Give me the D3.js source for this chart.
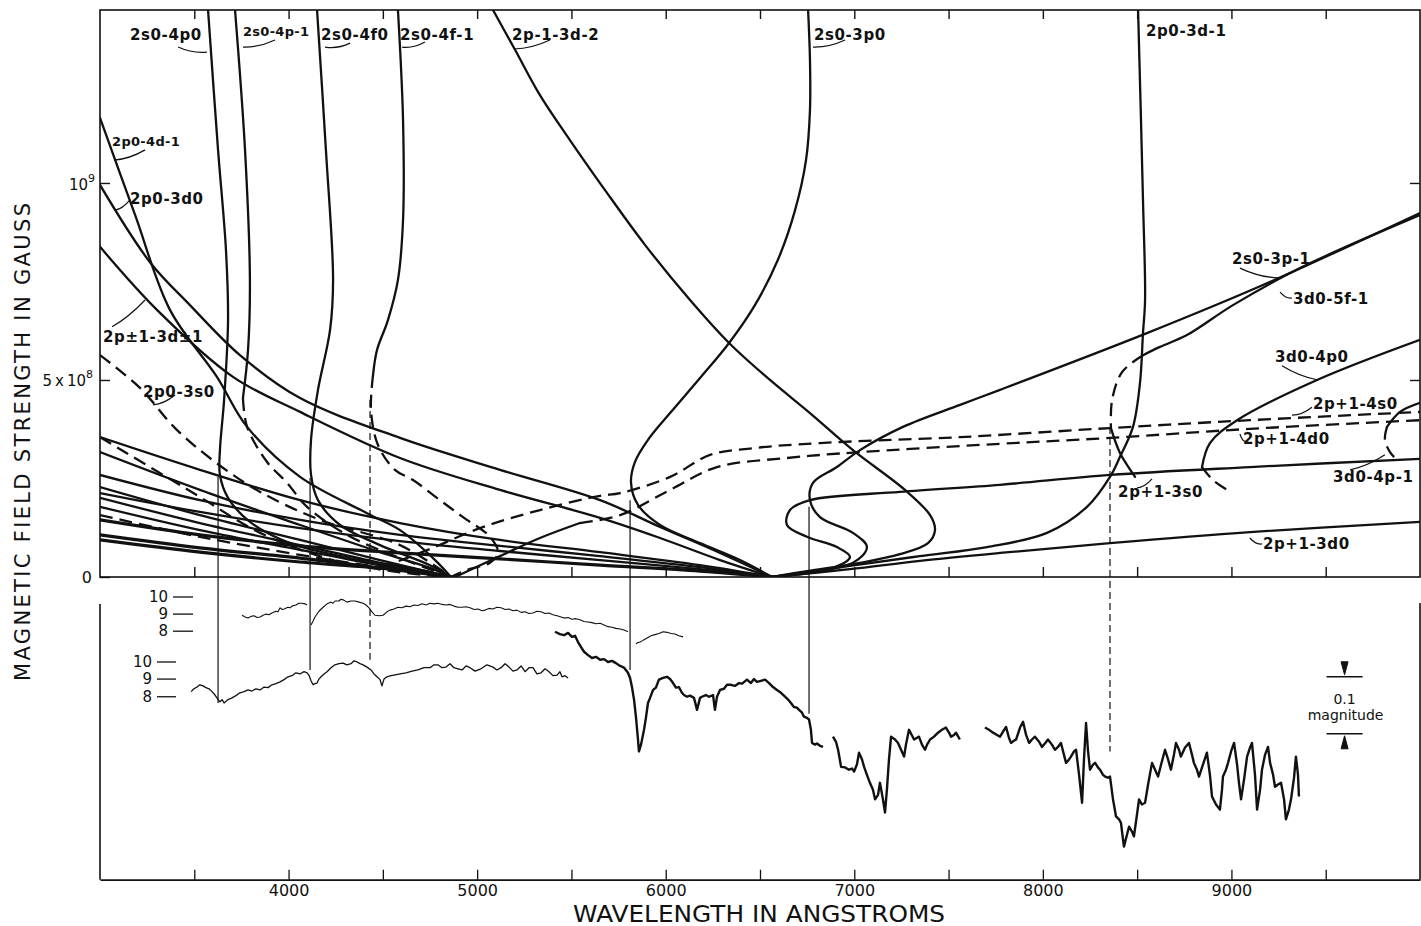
<!DOCTYPE html>
<html>
<head>
<meta charset="utf-8">
<script src="https://cdn.jsdelivr.net/npm/d3@7"></script>
<style>
body { margin: 0; background: #fff; }
svg { display: block; }
text { font-family: "DejaVu Sans", sans-serif; fill: #111; }
</style>
</head>
<body>
<svg id="chart" width="1421" height="926"></svg>
<script>
"use strict";

//
// Data: wavelength (angstrom), field (1e8 gauss)
//
// Balmer alpha components, coming in from the upper left
const c2p0_3d0 = [[3000,9.95],[3265,7.99],[3477,6.90],[3742,5.63],[4061,4.54],[4591,3.53],[5121,2.72],[5652,1.95],[5970,1.27],[6288,0.61],[6564,0]];
const c2pp1_3dp1 = [[3000,8.38],[3302,6.78],[3705,5.08],[4061,4.19],[4591,3.02],[5121,2.21],[5652,1.50],[5970,0.99],[6288,0.43],[6564,0]];
const cA1 = [[3000,3.55],[3530,2.72],[4061,1.95],[4591,1.37],[5121,0.94],[5652,0.63],[6182,0.30],[6564,0]];
const cA2 = [[3000,2.59],[3530,1.95],[4061,1.45],[4591,1.07],[5121,0.79],[5652,0.53],[6182,0.25],[6564,0]];
const cA3 = [[3000,2.13],[3530,1.65],[4061,1.24],[4591,0.91],[5121,0.66],[5652,0.43],[6182,0.20],[6564,0]];
const cA4 = [[3000,1.45],[3530,1.07],[4061,0.79],[4591,0.61],[5121,0.46],[5652,0.30],[6182,0.15],[6564,0]];

// Balmer beta components, coming in from the upper left
const c2p0_4dm1 = [[3000,11.65],[3186,9.19],[3371,6.78],[3620,5.08],[3780,3.81],[4061,2.54],[4416,1.62],[4591,1.19],[4777,0.43],[4861,0]];
const c2p0_3s0 = [[3000,5.63],[3212,4.80],[3398,3.78],[3610,2.92],[3849,2.16],[4167,1.45],[4591,0.81],[4861,0]];
const cB0 = [[3000,3.55],[3530,2.03],[3849,1.12],[4220,0.45],[4591,0.12],[4861,0]];
const cB1 = [[3000,3.17],[3530,2.21],[4061,1.32],[4485,0.63],[4750,0.23],[4861,0]];
const cB2 = [[3000,2.28],[3530,1.57],[4061,0.94],[4485,0.43],[4861,0]];
const cB3 = [[3000,2.01],[3530,1.37],[4061,0.81],[4485,0.36],[4861,0]];
const cB4 = [[3000,1.78],[3530,1.19],[4061,0.69],[4485,0.30],[4861,0]];
const cB5 = [[3000,1.57],[3530,1.02],[4061,0.56],[4485,0.25],[4861,0]];
const cB6 = [[3000,1.07],[3530,0.74],[4061,0.48],[4485,0.23],[4861,0]];
const cB7 = [[3000,0.94],[3530,0.63],[4061,0.38],[4591,0.18],[4861,0]];

// Balmer beta components, coming down from the top
const c2s0_4p0 = [[3573,14.39],[3626,10.84],[3668,8.30],[3679,6.52],[3658,4.49],[3636,3.22],[3636,2.59],[3679,2.01],[3795,1.40],[4008,0.86],[4326,0.48],[4697,0.18],[4861,0]];
const c2s0_4pm1a = [[3716,14.39],[3769,10.84],[3795,7.54],[3785,5.76],[3758,4.54]];
const c2s0_4pm1b = [[3758,4.54],[3780,3.81],[3886,2.92],[3992,2.39],[4098,1.78],[4310,1.07],[4591,0.48],[4861,0]];
const c2s0_4f0 = [[4151,14.39],[4198,10.84],[4236,7.54],[4220,6.27],[4156,4.75],[4119,3.48],[4119,2.59],[4156,1.95],[4273,1.32],[4485,0.81],[4750,0.30],[4861,0]];
const c2s0_4fm1a = [[4580,14.39],[4607,11.60],[4607,9.06],[4580,7.54],[4527,6.52],[4469,5.76],[4448,5.13]];
const c2s0_4fm1b = [[4448,5.13],[4437,4.24],[4474,3.35],[4564,2.72],[4660,2.46],[4803,1.95],[4925,1.52],[5068,1.02],[5111,0.61],[5068,0.36],[4946,0.18],[4861,0]];
const c2pp1_4s0 = [[4485,0.23],[4750,0.71],[5015,1.24],[5333,1.70],[5652,2.06],[5758,2.13],[6023,2.54],[6235,3.10],[6463,3.27],[6818,3.40],[7561,3.55],[8356,3.78],[9098,3.98],[10000,4.19]];
const c2pp1_4d0a = [[4883,0],[5121,0.53],[5333,0.99],[5545,1.37]];
const c2pp1_4d0b = [[5545,1.37],[5758,1.57],[6023,2.21],[6272,2.79],[6643,3.02],[7030,3.17],[7773,3.38],[8356,3.53],[9098,3.76],[10000,3.98]];

// Balmer alpha components, coming down from the top or out to the right
const c2pm1_3dm2 = [[5084,14.39],[5201,13.38],[5333,12.23],[5492,11.09],[5678,9.82],[5890,8.43],[6129,7.03],[6336,5.94],[6553,5.00],[6765,4.16],[6993,3.22],[7269,2.21],[7402,1.57],[7428,1.19],[7391,0.86],[7242,0.58],[7030,0.36],[6749,0.15],[6564,0]];
const c2s0_3p0 = [[6755,14.39],[6765,13.12],[6765,11.85],[6744,10.58],[6686,9.31],[6595,8.05],[6473,6.90],[6336,5.94],[6182,5.05],[6023,4.16],[5906,3.48],[5837,2.92],[5816,2.39],[5853,1.83],[5970,1.32],[6182,0.86],[6394,0.43],[6564,0]];
const c2p0_3dm1 = [[8505,14.39],[8531,9.57],[8542,7.03],[8531,6.19],[8515,4.92],[8478,3.81],[8409,3.05],[8356,2.54],[8234,1.78],[8022,1.12],[7704,0.76],[7348,0.53],[6977,0.28],[6564,0]];
const c2pp1_3d0 = [[6564,0],[6977,0.20],[7348,0.41],[7773,0.61],[8356,0.86],[9098,1.14],[10000,1.40]];
const c2s0_3pm1 = [[6564,0],[6993,0.36],[7067,0.76],[6993,1.12],[6818,1.52],[6765,1.95],[6781,2.39],[6908,2.79],[7030,3.22],[7258,3.81],[7561,4.37],[7773,4.75],[8552,6.19],[9167,7.41],[10000,9.24]];
const c2pp1_3s0 = [[6564,0],[6887,0.23],[6977,0.51],[6908,0.76],[6749,1.02],[6643,1.32],[6659,1.70],[6765,1.95],[7242,2.16],[7773,2.34],[8356,2.59],[9098,2.79],[10000,3.00]];

// Paschen components at the right
const c3d0_5fm1a = [[10000,9.19],[9364,7.84],[9008,6.90],[8764,6.14],[8621,5.84],[8531,5.63]];
const c3d0_5fm1b = [[8531,5.63],[8420,5.20],[8367,4.49],[8361,3.78]];
const c3d0_5fm1c = [[8361,3.78],[8409,3.15],[8489,2.54]];
const c3d0_4p0a = [[10000,6.02],[9454,5.00],[9030,3.98],[8886,3.40],[8844,2.79]];
const c3d0_4p0b = [[8844,2.79],[8902,2.46],[8977,2.21]];
const c3d0_4pm1a = [[10000,4.42],[9894,4.19],[9825,3.81]];
const c3d0_4pm1b = [[9825,3.81],[9814,3.48],[9841,3.17],[9878,2.97]];

// observed features tying the two panels together
const featureWl = [3626, 4114, 4432, 5811, 6760, 8356];
const featureTopField = [2.54, 2.51, 4.49, 1.95, 1.78, 3.81];
const featureEndMmag = [186, 128, 110, 128, 205, 271];

//
// Spectra: wavelength (angstrom), offset in millimagnitudes (down = fainter)
//
const specUpper = [
	[[3753,32],[3770,35],[3785,37],[3800,34],[3817,33],[3833,36],[3849,35],[3865,32],[3880,30],[3896,31],[3912,28],[3933,25],[3944,26],[3955,19],[3966,22],[3976,21],[3997,18],[4008,19],[4018,16],[4039,14],[4055,11],[4071,11],[4087,12],[4098,14]],
	[[4119,49],[4130,42],[4140,35],[4161,25],[4183,18],[4204,12],[4225,9],[4236,11],[4246,7],[4267,7],[4278,4],[4289,5],[4310,9],[4331,7],[4352,7],[4374,9],[4395,11],[4411,14],[4427,19],[4442,26],[4458,32],[4480,33],[4501,32],[4522,26],[4538,23],[4559,21],[4580,18],[4601,19],[4623,16],[4644,17],[4665,14],[4686,15],[4708,12],[4729,14],[4750,11],[4771,12],[4792,11],[4814,13],[4835,14],[4856,13],[4877,16],[4898,18],[4920,18],[4941,17],[4962,19],[4984,22],[5005,21],[5026,24],[5042,23],[5063,20],[5084,21],[5105,18],[5127,19],[5148,22],[5169,21],[5190,24],[5211,23],[5233,27],[5254,26],[5275,29],[5296,28],[5317,25],[5339,26],[5360,29],[5381,28],[5402,31],[5424,33],[5445,35],[5461,37],[5482,36],[5503,39],[5524,38],[5545,40],[5567,43],[5588,44],[5609,45],[5630,47],[5652,46],[5673,49],[5694,52],[5715,53],[5736,55],[5758,56],[5779,58],[5800,61]],
	[[5842,82],[5853,80],[5864,79],[5875,77],[5885,75],[5906,71],[5922,68],[5943,66],[5964,64],[5986,61],[6007,62],[6028,64],[6049,65],[6070,68],[6092,70]]
];

const specMiddle = [[3483,166],[3498,161],[3514,158],[3530,154],[3546,156],[3562,159],[3578,161],[3594,166],[3610,172],[3620,177],[3636,184],[3647,180],[3658,186],[3679,180],[3700,177],[3721,173],[3742,168],[3764,166],[3785,163],[3806,165],[3827,161],[3849,163],[3870,158],[3891,159],[3912,154],[3933,152],[3955,149],[3976,145],[3997,140],[4018,138],[4039,133],[4061,135],[4082,131],[4098,133],[4108,137],[4119,147],[4130,154],[4140,152],[4151,151],[4161,144],[4172,140],[4188,135],[4204,131],[4225,124],[4246,119],[4267,117],[4289,116],[4310,119],[4331,117],[4347,112],[4363,114],[4379,117],[4395,119],[4416,123],[4437,128],[4453,135],[4469,140],[4485,145],[4495,156],[4506,144],[4522,140],[4543,138],[4559,137],[4591,135],[4623,133],[4655,130],[4686,128],[4718,124],[4750,124],[4771,119],[4792,119],[4814,124],[4835,123],[4856,117],[4877,124],[4898,126],[4920,128],[4941,121],[4962,124],[4989,130],[5020,126],[5052,119],[5084,123],[5105,128],[5127,124],[5148,117],[5169,123],[5190,130],[5211,128],[5233,121],[5254,131],[5275,124],[5296,124],[5317,135],[5339,133],[5360,126],[5381,131],[5402,138],[5424,137],[5439,131],[5450,140],[5466,138],[5482,142]];

const specLower = [
	[[5413,61],[5439,65],[5461,67],[5482,63],[5503,70],[5519,68],[5535,79],[5551,88],[5567,96],[5588,102],[5609,107],[5630,105],[5652,110],[5673,109],[5694,114],[5715,112],[5736,116],[5758,121],[5779,124],[5800,133],[5811,142],[5821,158],[5832,180],[5842,210],[5853,250],[5858,271],[5869,259],[5885,233],[5895,212],[5906,186],[5917,177],[5933,163],[5948,159],[5964,145],[5986,142],[6007,140],[6023,144],[6039,151],[6054,159],[6070,158],[6086,168],[6097,172],[6113,175],[6129,173],[6150,177],[6166,198],[6182,177],[6192,175],[6213,172],[6230,175],[6251,172],[6261,198],[6272,175],[6288,163],[6309,161],[6325,154],[6346,154],[6367,156],[6389,151],[6405,152],[6431,145],[6452,151],[6468,144],[6484,149],[6505,147],[6527,145],[6548,151],[6569,158],[6590,163],[6611,168],[6627,173],[6649,180],[6664,186],[6680,193],[6696,194],[6707,198],[6723,203],[6733,210],[6749,212],[6760,215],[6770,233],[6776,256],[6792,259],[6802,257],[6818,261],[6834,263]],
	[[6887,245],[6903,254],[6914,268],[6930,298],[6951,299],[6972,303],[6988,301],[6999,306],[7014,294],[7025,273],[7041,285],[7052,298],[7067,312],[7083,326],[7099,338],[7110,355],[7126,347],[7136,326],[7152,355],[7163,378],[7173,338],[7184,285],[7195,245],[7216,250],[7232,256],[7248,268],[7264,280],[7274,259],[7290,233],[7306,243],[7317,250],[7333,247],[7343,245],[7359,259],[7375,268],[7386,259],[7402,250],[7423,245],[7444,238],[7465,233],[7486,229],[7502,238],[7513,245],[7529,242],[7539,238],[7560,250]],
	[[7693,229],[7714,233],[7736,238],[7757,242],[7773,245],[7789,236],[7805,228],[7820,247],[7831,256],[7847,252],[7858,250],[7879,229],[7895,219],[7911,242],[7927,256],[7942,250],[7958,245],[7980,254],[7995,263],[8011,257],[8027,250],[8048,259],[8064,268],[8080,263],[8096,256],[8112,277],[8123,291],[8139,285],[8149,280],[8165,271],[8176,268],[8192,312],[8208,361],[8218,285],[8229,221],[8239,268],[8250,303],[8266,294],[8277,291],[8292,299],[8303,303],[8319,312],[8330,315],[8345,317],[8356,315],[8372,355],[8388,385],[8404,390],[8414,396],[8425,425],[8430,438],[8446,417],[8457,403],[8472,411],[8483,420],[8499,382],[8510,355],[8525,364],[8542,361],[8558,329],[8579,291],[8595,303],[8611,315],[8627,294],[8648,268],[8664,285],[8679,303],[8695,277],[8706,256],[8722,268],[8732,280],[8754,264],[8775,256],[8791,277],[8801,291],[8817,303],[8828,315],[8849,294],[8870,273],[8886,312],[8897,350],[8918,364],[8939,373],[8950,338],[8955,315],[8971,303],[8982,291],[8998,271],[9014,256],[9030,294],[9040,326],[9051,355],[9067,320],[9083,280],[9099,264],[9109,256],[9125,312],[9136,373],[9152,338],[9162,303],[9178,277],[9194,263],[9205,291],[9221,312],[9231,333],[9247,329],[9263,326],[9279,355],[9289,390],[9305,373],[9316,355],[9332,317],[9342,280],[9353,312],[9358,350]]
];

// tick values
const waveTicks = [3500, 4000, 4500, 5000, 5500, 6000, 6500, 7000, 7500, 8000, 8500, 9000, 9500];
const waveTickLabels = [4000, 5000, 6000, 7000, 8000, 9000];
const fieldTicks = [0, 5, 10];
const magTickLabels = ["10", "9", "8"];
const magTicksUpper = [0, 30, 60];
const magTicksLower = [114, 144, 175];
const magScaleBar = [140, 240];

// curve labels: text, anchor (wl, field), leader from, leader to
const labelText = ["2s0-4p0","2s0-4p-1","2s0-4f0","2s0-4f-1","2p-1-3d-2","2s0-3p0","2p0-3d-1","2p0-4d-1","2p0-3d0","2p\u00b11-3d\u00b11","2p0-3s0","2s0-3p-1","3d0-5f-1","3d0-4p0","2p+1-4s0","2p+1-4d0","3d0-4p-1","2p+1-3s0","2p+1-3d0"];
const labelAt = [[3159,13.63],[3758,13.73],[4172,13.63],[4591,13.63],[5185,13.63],[6786,13.63],[8547,13.73],[3064,10.94],[3159,9.47],[3016,5.96],[3228,4.57],[9003,7.94],[9326,6.93],[9231,5.46],[9432,4.26],[9061,3.38],[9539,2.41],[8399,2.03],[9167,0.71]];
const leaderFrom = [[3414,13.45],[3758,13.45],[4193,13.45],[4602,13.45],[5195,13.40],[6781,13.45],null,[3074,10.58],[3080,9.31],[3064,6.35],[3281,4.37],[9045,7.84],[9258,7.23],[9268,5.36],[9321,4.11],[9045,3.63],[9629,2.72],[8499,2.26],[9098,0.99]];
const leaderTo = [[3567,13.32],[3928,13.63],[4326,13.55],[4723,13.58],[5386,13.63],[6951,13.63],null,[3239,10.84],[3159,9.57],[3239,7.03],[3398,4.62],[9247,7.59],[9321,7.08],[9459,5.00],[9427,4.31],[9072,3.45],[9814,3.10],[8579,2.49],[9162,0.84]];

//
// Setup
//
const svg = d3.select("#chart");
const x = d3.scaleLinear().domain([3000, 10000]).range([100, 1420]);
const yB = d3.scaleLinear().domain([0, 14.39]).range([577, 10]);
const yM = d3.scaleLinear().domain([0, 500]).range([597, 882]);

const ink = "#111";
const dashLong = "13,7";

svg.append("clipPath").attr("id", "upperClip")
	.append("rect").attr("x", 100).attr("y", 10).attr("width", 1320).attr("height", 567);

//
// Upper panel frame and axes
//
svg.append("rect")
	.attr("x", x(3000)).attr("y", yB(14.39))
	.attr("width", x(10000) - x(3000)).attr("height", yB(0) - yB(14.39))
	.attr("fill", "none").attr("stroke", ink).attr("stroke-width", 1.6);

function cleanAxis(g) {
	g.select(".domain").remove();
	g.selectAll(".tick line").attr("stroke", ink).attr("stroke-width", 1.4);
}

svg.append("g").attr("transform", "translate(0," + yB(0) + ")")
	.call(d3.axisBottom(x).tickValues(waveTicks).tickSize(-10).tickFormat(""))
	.call(cleanAxis);
svg.append("g").attr("transform", "translate(0," + yB(14.39) + ")")
	.call(d3.axisTop(x).tickValues(waveTicks).tickSize(-9).tickFormat(""))
	.call(cleanAxis);
svg.append("g").attr("transform", "translate(" + x(3000) + ",0)")
	.call(d3.axisLeft(yB).tickValues(fieldTicks).tickSize(-10).tickFormat(""))
	.call(cleanAxis);
svg.append("g").attr("transform", "translate(" + x(10000) + ",0)")
	.call(d3.axisRight(yB).tickValues(fieldTicks.slice(1)).tickSize(-10).tickFormat(""))
	.call(cleanAxis);

// field tick labels
svg.append("text").attr("x", 92).attr("y", yB(0) + 6)
	.attr("text-anchor", "end").attr("font-size", 16).text("0");
var t5 = svg.append("text").attr("x", 93).attr("y", yB(5) + 6)
	.attr("text-anchor", "end").attr("font-size", 15);
t5.append("tspan").text("5\u2009x\u200910");
t5.append("tspan").attr("dy", -8).attr("font-size", 11).text("8");
var t9 = svg.append("text").attr("x", 95).attr("y", yB(10) + 7)
	.attr("text-anchor", "end").attr("font-size", 15);
t9.append("tspan").text("10");
t9.append("tspan").attr("dy", -8).attr("font-size", 11).text("9");

svg.append("text")
	.attr("transform", "translate(30,442) rotate(-90)")
	.attr("text-anchor", "middle").attr("font-size", 21)
	.attr("textLength", 478).attr("lengthAdjust", "spacing")
	.text("MAGNETIC FIELD STRENGTH IN GAUSS");

//
// Upper panel curves
//
const fieldLine = d3.line()
	.x(function(d) { return x(d[0]); })
	.y(function(d) { return yB(d[1]); })
	.curve(d3.curveCatmullRom.alpha(0.5));

const solidCurves = [c2p0_3d0, c2pp1_3dp1, cA1, cA2, cA3, c2p0_4dm1, cB1, cB2, cB3, cB4,
	c2s0_4p0, c2s0_4pm1a, c2s0_4f0, c2s0_4fm1a, c2pp1_4d0a,
	c2pm1_3dm2, c2s0_3p0, c2p0_3dm1, c2pp1_3d0, c2s0_3pm1, c2pp1_3s0,
	c3d0_5fm1a, c3d0_5fm1c, c3d0_4p0a, c3d0_4pm1a];
const dashedCurves = [c2p0_3s0, cB0, cB5, c2s0_4pm1b, c2s0_4fm1b, c2pp1_4s0, c2pp1_4d0b,
	c3d0_5fm1b, c3d0_4p0b, c3d0_4pm1b];
const heavyCurves = [cB6, cB7, cA4];

var curveLayer = svg.append("g").attr("clip-path", "url(#upperClip)")
	.attr("fill", "none").attr("stroke", ink).attr("stroke-linecap", "round");

curveLayer.selectAll(".solid").data(solidCurves).enter()
	.append("path").attr("class", "solid")
	.attr("d", fieldLine).attr("stroke-width", 2.3);

curveLayer.selectAll(".heavy").data(heavyCurves).enter()
	.append("path").attr("class", "heavy")
	.attr("d", fieldLine).attr("stroke-width", 3.2);

curveLayer.selectAll(".dashed").data(dashedCurves).enter()
	.append("path").attr("class", "dashed")
	.attr("d", fieldLine).attr("stroke-width", 2.3)
	.attr("stroke-linecap", "butt")
	.attr("stroke-dasharray", dashLong);

//
// Labels with leaders
//
var labelLayer = svg.append("g");
labelText.forEach(function(txt, i) {
	var small = (i === 1 || i === 7);
	labelLayer.append("text")
		.attr("x", x(labelAt[i][0])).attr("y", yB(labelAt[i][1]))
		.attr("font-size", small ? 13 : 15)
		.attr("font-weight", "bold")
		.attr("letter-spacing", small ? 0.3 : 0.6)
		.text(txt);
	if (leaderFrom[i]) {
		var x1 = x(leaderFrom[i][0]), y1 = yB(leaderFrom[i][1]);
		var x2 = x(leaderTo[i][0]), y2 = yB(leaderTo[i][1]);
		var cx = (x1 + x2) / 2, cy = (y1 + y2) / 2 + 4;
		labelLayer.append("path")
			.attr("d", "M" + x1 + "," + y1 + "Q" + cx + "," + cy + " " + x2 + "," + y2)
			.attr("fill", "none").attr("stroke", ink).attr("stroke-width", 1.2);
	}
});

//
// Feature lines between the panels
//
var featureLayer = svg.append("g").attr("stroke", ink).attr("stroke-width", 1.2);
featureWl.forEach(function(wl, i) {
	featureLayer.append("line")
		.attr("x1", x(wl)).attr("x2", x(wl))
		.attr("y1", yB(featureTopField[i])).attr("y2", yM(featureEndMmag[i]))
		.attr("stroke-dasharray", (i === 2 || i === 5) ? "7,4" : null);
});

//
// Lower panel
//
svg.append("line").attr("x1", x(3000)).attr("x2", x(3000)).attr("y1", 604).attr("y2", yM(496))
	.attr("stroke", ink).attr("stroke-width", 1.6);
svg.append("line").attr("x1", x(10000)).attr("x2", x(10000)).attr("y1", 603).attr("y2", yM(496))
	.attr("stroke", ink).attr("stroke-width", 1.6);

var lowerAxis = svg.append("g").attr("transform", "translate(0," + yM(496) + ")")
	.call(d3.axisBottom(x).tickValues(waveTicks).tickSize(-10).tickSizeOuter(0).tickPadding(5)
		.tickFormat(function(d) { return waveTickLabels.indexOf(d) >= 0 ? d : ""; }));
lowerAxis.select(".domain").attr("stroke", ink).attr("stroke-width", 1.8);
lowerAxis.selectAll(".tick line").attr("stroke", ink).attr("stroke-width", 1.3);
lowerAxis.selectAll(".tick text")
	.attr("font-family", "'Liberation Sans Narrow', 'DejaVu Sans Condensed', sans-serif")
	.attr("font-size", 16).attr("fill", ink);

svg.append("text").attr("x", 759).attr("y", 922)
	.attr("text-anchor", "middle").attr("font-size", 23)
	.attr("font-family", "'Liberation Sans Narrow', 'DejaVu Sans Condensed', sans-serif")
	.attr("textLength", 372).attr("lengthAdjust", "spacingAndGlyphs")
	.text("WAVELENGTH IN ANGSTROMS");

// magnitude tick marks
function magTicks(values, textRight, lineX0, lineX1) {
	values.forEach(function(v, i) {
		svg.append("text").attr("x", textRight).attr("y", yM(v) + 5)
			.attr("text-anchor", "end").attr("font-size", 15).text(magTickLabels[i]);
		svg.append("line").attr("x1", lineX0).attr("x2", lineX1)
			.attr("y1", yM(v)).attr("y2", yM(v))
			.attr("stroke", ink).attr("stroke-width", 1.3);
	});
}
magTicks(magTicksUpper, 168, 173, 193);
magTicks(magTicksLower, 152, 157, 176);

// spectra
const specLine = d3.line()
	.x(function(d) { return x(d[0]); })
	.y(function(d) { return yM(d[1]); });

var specLayer = svg.append("g").attr("fill", "none").attr("stroke", ink)
	.attr("stroke-linejoin", "round");
specLayer.selectAll(".upper").data(specUpper).enter()
	.append("path").attr("class", "upper").attr("d", specLine).attr("stroke-width", 1.1);
specLayer.append("path").datum(specMiddle).attr("d", specLine).attr("stroke-width", 1.3);
specLayer.selectAll(".lower").data(specLower).enter()
	.append("path").attr("class", "lower").attr("d", specLine).attr("stroke-width", 2.4);

// 0.1 magnitude scale bar
var barX = x(9600);
var bar = svg.append("g").attr("stroke", ink).attr("fill", ink);
magScaleBar.forEach(function(v, i) {
	bar.append("line").attr("x1", barX - 18).attr("x2", barX + 18)
		.attr("y1", yM(v)).attr("y2", yM(v)).attr("stroke-width", 1.5);
	var dir = i === 0 ? -1 : 1;
	bar.append("path")
		.attr("d", "M" + barX + "," + (yM(v) + dir * 2) +
			"L" + (barX - 3.5) + "," + (yM(v) + dir * 15) +
			"L" + (barX + 3.5) + "," + (yM(v) + dir * 15) + "Z")
		.attr("stroke-width", 1);
});
svg.append("text").attr("x", barX).attr("y", yM(190) - 1)
	.attr("text-anchor", "middle").attr("font-size", 14).text("0.1");
svg.append("text").attr("x", barX + 1).attr("y", yM(190) + 15)
	.attr("text-anchor", "middle").attr("font-size", 14).text("magnitude");
</script>
</body>
</html>
